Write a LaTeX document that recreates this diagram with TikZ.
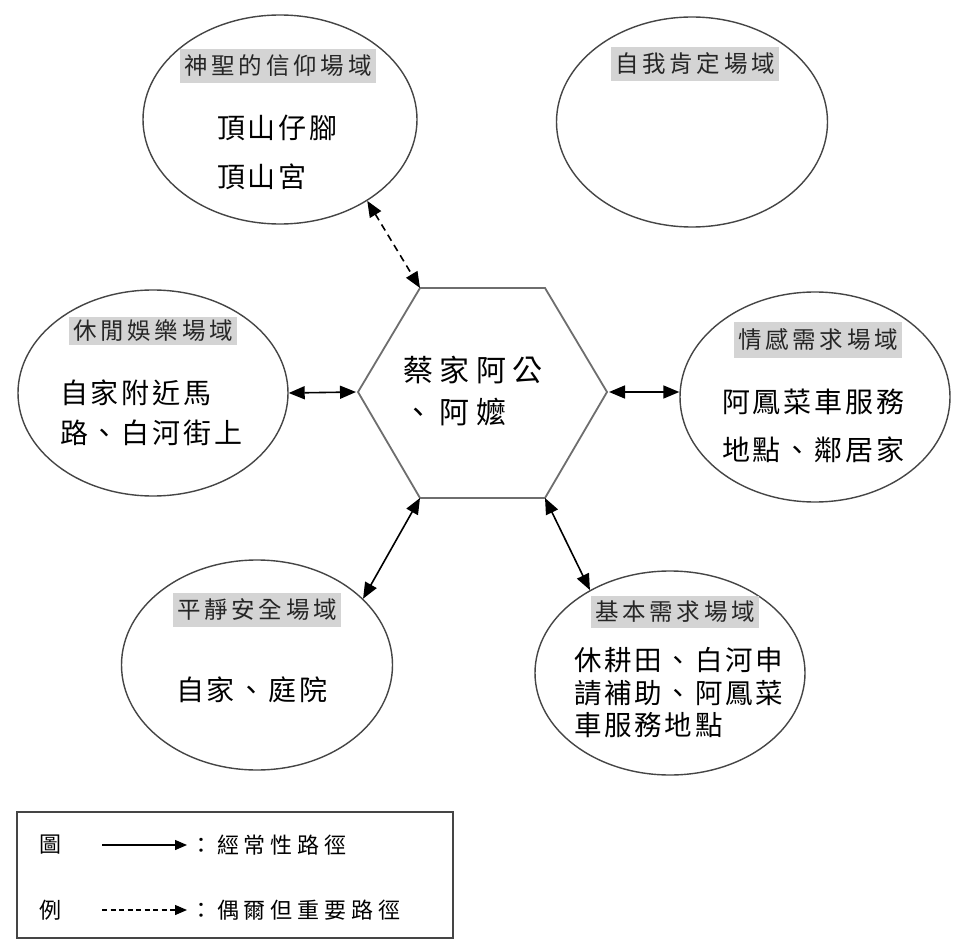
\documentclass[tikz,border=0pt]{standalone}
\usepackage{fontspec}
\setmainfont{Noto Sans CJK TC}
\newfontfamily\cjkbody[LetterSpace=10]{Noto Sans CJK TC}
\newfontfamily\cjkwide[LetterSpace=22]{Noto Sans CJK TC}
\newfontfamily\cjktitle[LetterSpace=16]{Noto Sans CJK TC}
\usetikzlibrary{arrows.meta,shapes.geometric}
\definecolor{linegray}{HTML}{454545}
\definecolor{hexgray}{HTML}{6E6E6E}
\definecolor{titlebg}{HTML}{D4D4D4}
\tikzset{
  field/.style={ellipse, draw=linegray, line width=1.4pt, inner sep=0pt},
  fieldtitle/.style={fill=titlebg, text=black!85, inner xsep=4pt, inner ysep=6.5pt,
     font=\cjktitle\fontsize{23.5}{26}\selectfont},
  bodytext/.style={align=left, inner sep=0pt, anchor=west},
  arr/.style={line width=1.6pt, {Triangle[length=16pt,width=13pt]}-{Triangle[length=16pt,width=13pt]}},
  legarr/.style={line width=1.3pt, -{Triangle[length=12pt,width=10pt]}},
}
\begin{document}
\begin{tikzpicture}[x=1pt,y=-1pt]
\useasboundingbox[fill=white] (0,0) rectangle (955,949);

% ellipses
\node[field, minimum width=274pt, minimum height=209pt] (e1) at (280,119.5) {};
\node[field, minimum width=271pt, minimum height=210pt] (e2) at (692,122) {};
\node[field, minimum width=270pt, minimum height=206pt] (e3) at (153,393) {};
\node[field, minimum width=270pt, minimum height=210pt] (e4) at (815,397) {};
\node[field, minimum width=271pt, minimum height=210pt] (e5) at (257,665) {};
\node[field, minimum width=270pt, minimum height=204pt] (e6) at (670,673) {};

% titles
\node[fieldtitle] (t1) at (278,66) {神聖的信仰場域};
\node[fieldtitle] (t2) at (695,64) {自我肯定場域};
\node[fieldtitle, inner ysep=3pt] (t3) at (153,331) {休閒娛樂場域};
\node[fieldtitle] (t4) at (818,340) {情感需求場域};
\node[fieldtitle] (t5) at (257,610) {平靜安全場域};
\node[fieldtitle, inner ysep=5pt] (t6) at (675,612) {基本需求場域};

% body texts
\node[bodytext, font=\cjkbody\fontsize{28}{49}\selectfont] (b1) at (217,152) {頂山仔腳\\頂山宮};
\node[bodytext, font=\cjkbody\fontsize{28}{40}\selectfont] (b3) at (60,413) {自家附近馬\\路、白河街上};
\node[bodytext, font=\cjkbody\fontsize{28}{48}\selectfont] (b4) at (722,426) {阿鳳菜車服務\\地點、鄰居家};
\node[bodytext, font=\cjkbody\fontsize{28}{40}\selectfont] (b5) at (176,690) {自家、庭院};
\node[bodytext, font=\cjkbody\fontsize{27.5}{32.5}\selectfont] (b6) at (574,693) {休耕田、白河申\\請補助、阿鳳菜\\車服務地點};

% hexagon
\coordinate (hTL) at (420,288);
\coordinate (hTR) at (545,288);
\coordinate (hR) at (607,392);
\coordinate (hBR) at (545,498);
\coordinate (hBL) at (420,498);
\coordinate (hL) at (358,392);
\draw[hexgray, line width=1.8pt, line join=miter] (hTL) -- (hTR) -- (hR) -- (hBR) -- (hBL) -- (hL) -- cycle;
\node[bodytext, font=\cjkwide\fontsize{30}{42}\selectfont] (hex) at (403,391) {蔡家阿公\\、阿嬤};

% connectors
\draw[arr, dashed, dash pattern=on 7pt off 5pt] (e1.-43.5) -- (hTL);
\draw[arr] (e3.east) -- ([xshift=-2pt]hL);
\draw[arr] ([xshift=2pt]hR) -- (hR -| e4.west);
\draw[arr] (hBL) -- (e5.32);
\draw[arr] (hBR) -- (e6.134);

% legend
\node[draw=linegray, line width=1.4pt, minimum width=436pt, minimum height=126pt, inner sep=0pt] (legend) at (235,875) {};
\node[font=\cjkwide\fontsize{22}{24}\selectfont, inner sep=0pt] (l1) at (50,845) {圖};
\node[font=\cjkwide\fontsize{22}{24}\selectfont, inner sep=0pt] (l2) at (50,910) {例};
\coordinate (a1s) at (102,845);
\coordinate (a1e) at (187,845);
\coordinate (a2s) at (102,910);
\coordinate (a2e) at (187,910);
\draw[legarr] (a1s) -- (a1e);
\draw[legarr, dash pattern=on 5pt off 3.5pt] (a2s) -- (a2e);
\node[bodytext, font=\cjkwide\fontsize{22}{24}\selectfont] (lt1) at (190,845) {：經常性路徑};
\node[bodytext, font=\cjkwide\fontsize{22}{24}\selectfont] (lt2) at (190,910) {：偶爾但重要路徑};
\end{tikzpicture}
\end{document}
